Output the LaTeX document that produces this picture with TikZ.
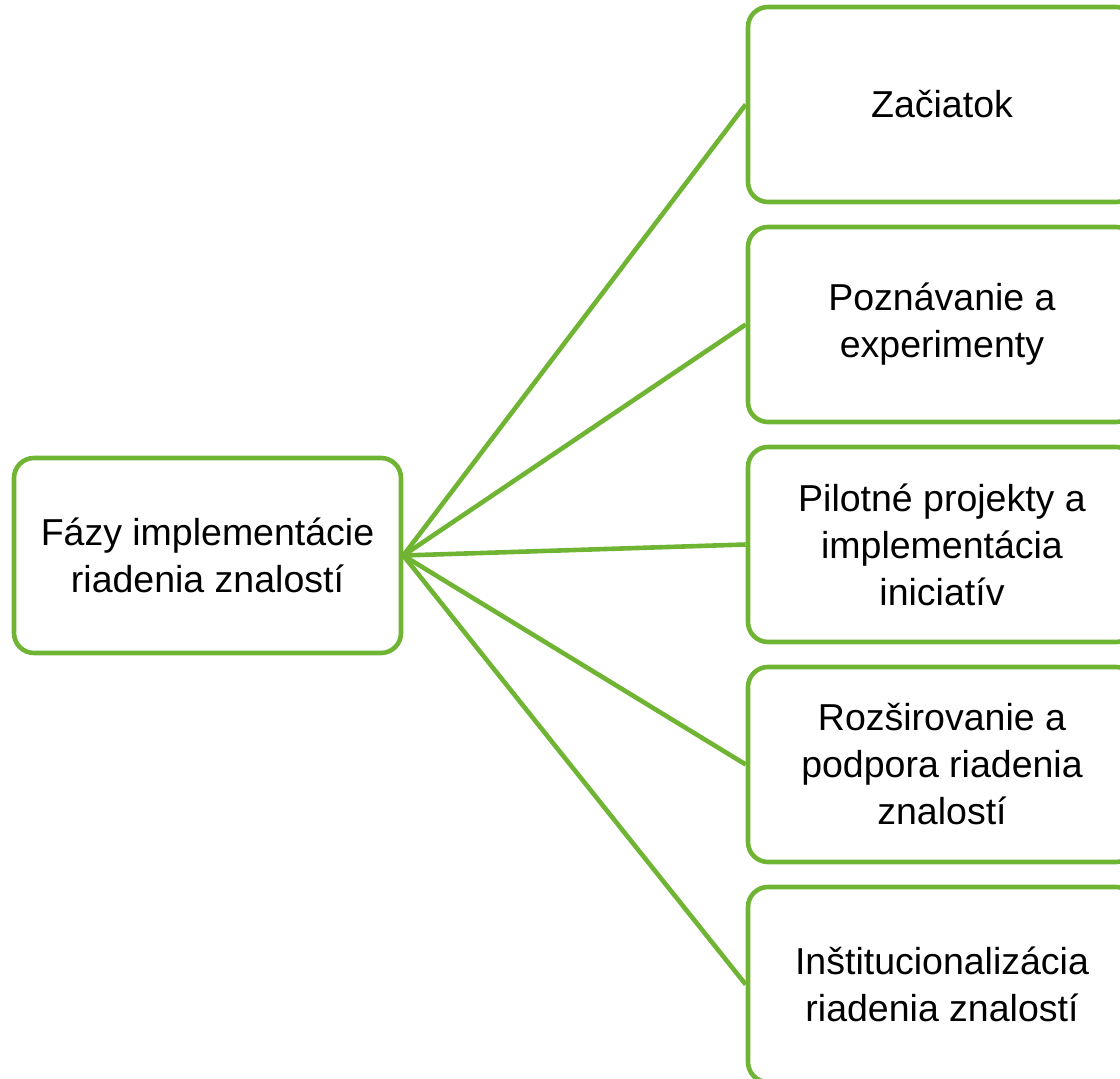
\documentclass[tikz,border=0pt]{standalone}
\usepackage{fontspec}
\setmainfont{Liberation Sans}
\definecolor{grn}{RGB}{112,180,52}
\begin{document}
\begin{tikzpicture}[x=1pt,y=-1pt,
  box/.style={draw=grn, line width=4.6pt, rounded corners=20pt, fill=white, align=center,
    font=\fontsize{37.5}{47}\selectfont, inner sep=0pt},
  conn/.style={draw=grn, line width=4.6pt}]
\useasboundingbox (0,0) rectangle (1120,1079);
\begin{scope}
\clip (0,0) rectangle (1120,1079);
\node[box, minimum width=387pt, minimum height=195pt] (root) at (207.5,555.5) {Fázy implementácie\\riadenia znalostí};
\node[box, minimum width=388pt, minimum height=195pt] (b1) at (942,104.5) {Začiatok};
\node[box, minimum width=388pt, minimum height=195pt] (b2) at (942,324.5) {Poznávanie a\\experimenty};
\node[box, minimum width=388pt, minimum height=195pt] (b3) at (942,544.5) {Pilotné projekty a\\implementácia\\iniciatív};
\node[box, minimum width=388pt, minimum height=195pt] (b4) at (942,764.5) {Rozširovanie a\\podpora riadenia\\znalostí};
\node[box, minimum width=388pt, minimum height=195pt] (b5) at (942,984.5) {Inštitucionalizácia\\riadenia znalostí};
\foreach \b in {b1,b2,b3,b4,b5}
  \draw[conn] (root.east) -- (\b.west);
\end{scope}
\end{tikzpicture}
\end{document}
